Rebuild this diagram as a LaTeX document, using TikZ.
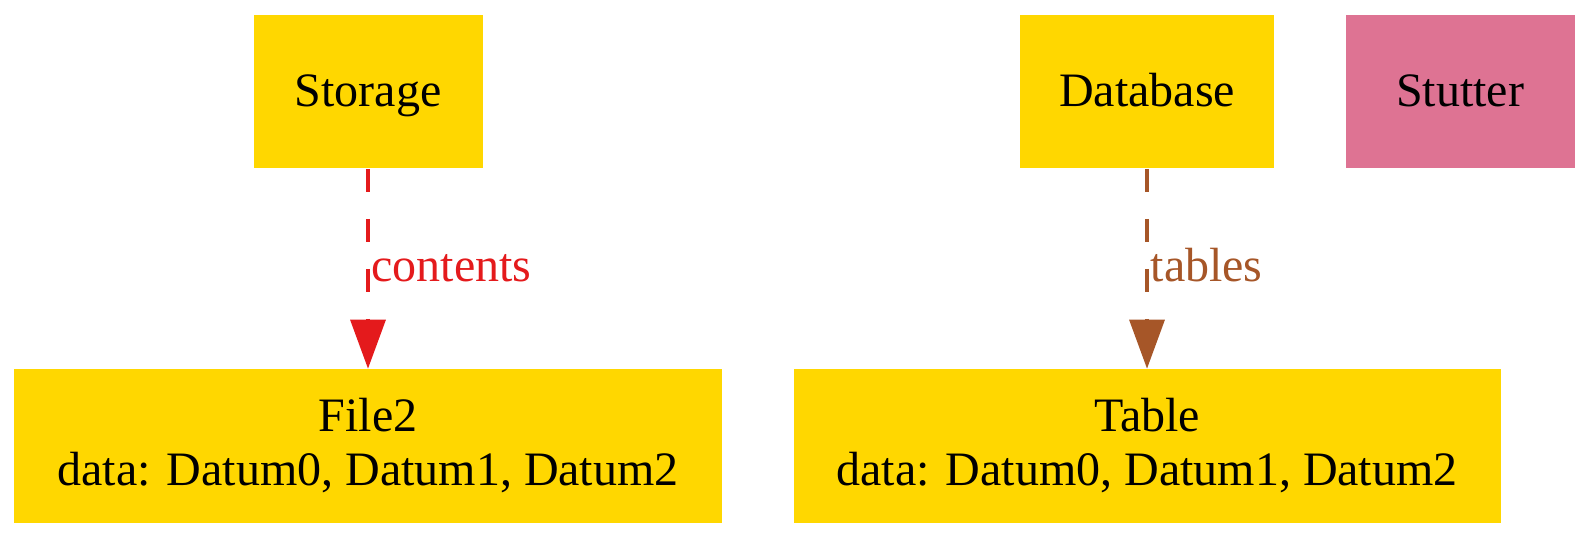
\documentclass[tikz,border=0pt]{standalone}
\usepackage{fontspec}
\setmainfont{Liberation Serif}
\definecolor{boxgold}{RGB}{255,215,0}
\definecolor{stutterpink}{RGB}{222,115,147}
\definecolor{edgered}{RGB}{228,26,28}
\definecolor{edgebrown}{RGB}{166,86,40}
\usetikzlibrary{positioning,arrows.meta}
\tikzset{
  entity/.style={fill=boxgold, inner sep=0pt, align=center, minimum height=46pt,
    font=\fontsize{14.4}{16.2}\selectfont},
  single/.style={text height=11pt, text depth=2.3pt},
  relation/.style={dash pattern=on 7pt off 8pt, line width=1pt,
    -{Triangle[length=14.7pt,width=10.5pt]}},
  rellabel/.style={anchor=base west, inner sep=0pt, xshift=0.6pt, yshift=-3.8pt,
    font=\fontsize{14.4}{16.2}\selectfont}
}

\begin{document}
\begin{tikzpicture}[x=0.3pt,y=-0.3pt]
    \useasboundingbox (0,0) rectangle (1590,538);
    % top row
    \node[entity, single, minimum width=68.7pt] (storage) at (368,91.5) {Storage};
    \node[entity, single, minimum width=76.2pt] (database) at (1147,91.5) {Database};
    \node[entity, single, minimum width=68.7pt, fill=stutterpink] (stutter) at (1460,91.5) {Stutter};
    % bottom row
    \node[entity, minimum width=212.4pt] (file2) at (368,446) {File2\\data: Datum0, Datum1, Datum2};
    \node[entity, minimum width=212.1pt] (table) at (1147,446) {Table\\data: Datum0, Datum1, Datum2};
    % edges
    \draw[relation, edgered] (storage) -- (file2)
        node[rellabel, pos=0.5, text=edgered] {contents};
    \draw[relation, edgebrown] (database) -- (table)
        node[rellabel, pos=0.5, text=edgebrown] {tables};
\end{tikzpicture}
\end{document}
